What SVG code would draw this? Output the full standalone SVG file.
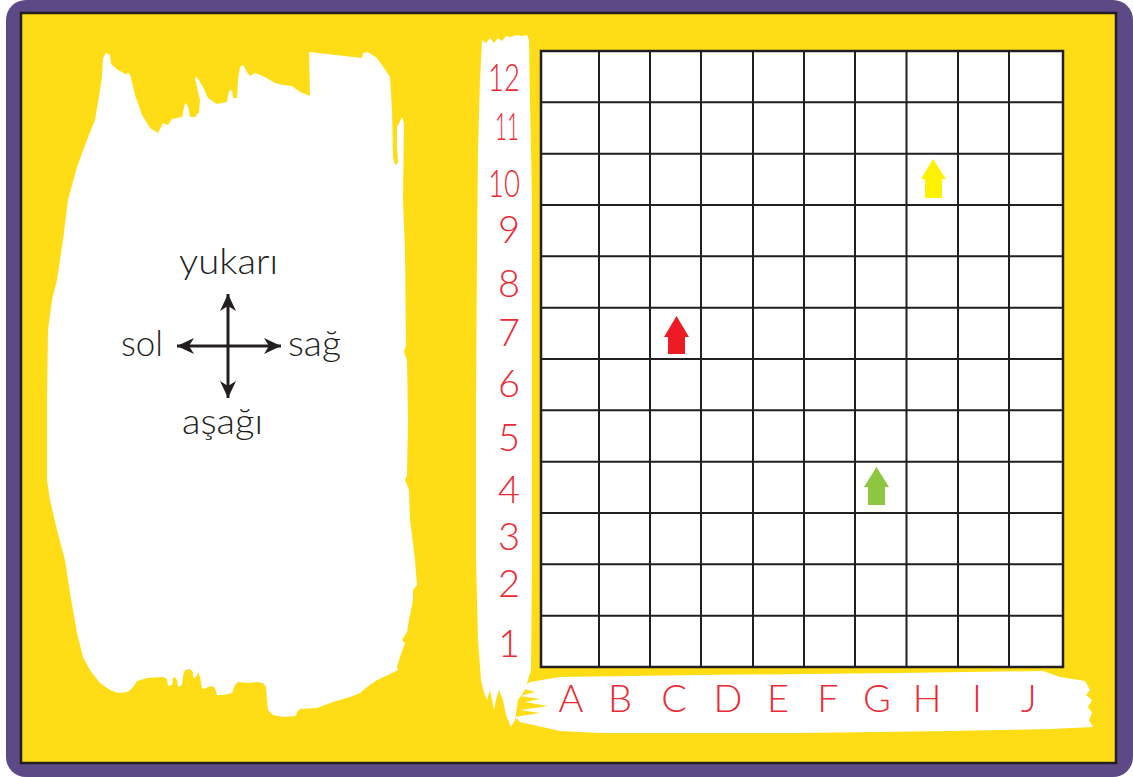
<svg xmlns="http://www.w3.org/2000/svg" width="1133" height="777" viewBox="0 0 1133 777">
<style>
.lbl{font-family:Lato,"Noto Sans","Liberation Sans",sans-serif;font-weight:300;fill:#ec2a33;font-size:38px}
.cmp{font-family:Lato,"Noto Sans","Liberation Sans",sans-serif;font-weight:300;fill:#231f20;font-size:35px}
.gl{stroke:#231f20;stroke-width:2;fill:none}
.wh{fill:#ffffff}
</style>
<defs>
<marker id="ah" viewBox="-18 -9 20 18" refX="0" refY="0" markerWidth="20" markerHeight="18" markerUnits="userSpaceOnUse" orient="auto">
<path d="M0,0 L-17,-8 L-12,0 L-17,8 Z" fill="#231f20"/>
</marker>
</defs>
<g id="frame">
<rect x="6" y="0" width="1127" height="777" rx="20" fill="#5e4987"/>
<rect x="21" y="13" width="1095" height="750" fill="#fedd17" stroke="#231f20" stroke-width="2.5"/>
</g>
<g id="brush-left">
<path class="wh" d="M106,53 L110,55 L111,64 L118,70 L125,74 L129,73 L131,78 L135,95 L142,115 L150,128 L158,133 L163,123 L168,125 L172,119 L182,117 L185,103 L188,106 L190,117 L195,117 L199,112 L200,100 L197,87 L195,78 L197,77 L203,87 L208,98 L217,104 L227,102 L229,91 L232,90 L233,98 L237,98 L238,80 L240,67 L243,65 L247,72 L250,76 L255,73 L263,76 L275,83 L283,85 L292,86 L300,92 L310,96 L309,52 L362,58 L363,53 L368,52 L377,58 L390,77 L392,110 L393,157 L395,165 L398,163 L397,147 L397,127 L402,117 L404,123 L403,200 L405,250 L406,345 L404,352 L407,360 L408,420 L407,475 L405,480 L409,490 L410,520 L415,560 L417,585 L413,590 L413,600 L409,620 L407,632 L402,640 L405,643 L400,657 L397,667 L398,670 L388,675 L377,680 L367,687 L360,693 L350,697 L333,702 L317,708 L300,709 L297,712 L296,716 L283,717 L273,715 L268,710 L267,700 L266,687 L263,683 L257,682 L248,683 L238,682 L235,685 L232,693 L223,695 L217,695 L215,688 L212,686 L208,687 L204,689 L202,688 L200,677 L198,672 L197,675 L195,678 L193,677 L193,672 L190,669 L185,670 L183,676 L182,685 L178,687 L177,680 L175,677 L173,678 L172,685 L168,686 L167,679 L163,677 L147,678 L137,681 L133,687 L128,692 L118,693 L110,690 L100,683 L90,670 L83,657 L77,633 L70,593 L65,560 L57,530 L50,500 L47,480 L47,400 L48,330 L52,300 L57,280 L63,240 L68,200 L77,167 L87,140 L95,120 L100,90 L102,77 L103,58 Z"/>
</g>
<g id="brush-numbers">
<path class="wh" d="M482,40 L486,43 L490,38 L494,43 L498,38 L502,41 L506,36 L511,37 L516,35 L522,36 L527,35 L529,40 L530,100 L532,200 L532,560 L531,670 L525,690 L518,700 L515,720 L511,727 L506,715 L503,700 L499,690 L496,700 L494,710 L490,690 L487,700 L484,693 L481,680 L478,640 L476,560 L476,400 L477,250 L478,150 L480,80 Z"/>
</g>
<g id="brush-letters">
<path class="wh" d="M530,682 L560,677 L700,675 L900,673 L1043,671 L1060,677 L1085,681 L1090,690 L1086,695 L1092,700 L1088,707 L1092,713 L1089,720 L1093,727 L1050,729 L1000,730 L950,731 L800,733 L600,733 L560,731 L520,722 L515,717 L540,713 L520,710 L548,706 L525,702 L540,699 L520,696 L535,692 L522,688 Z"/>
</g>
<g id="grid">
<rect x="541" y="51" width="522" height="616" fill="#ffffff" stroke="#231f20" stroke-width="2.5"/>
<path class="gl" d="M599,51V667 M650,51V667 M701,51V667 M753,51V667 M804,51V667 M855,51V667 M906.5,51V667 M958,51V667 M1009,51V667 M541,102.3H1063 M541,153.7H1063 M541,205H1063 M541,256.3H1063 M541,307.7H1063 M541,359H1063 M541,410.3H1063 M541,461.7H1063 M541,513H1063 M541,564.3H1063 M541,615.7H1063"/>
</g>
<g id="row-labels" class="lbl" text-anchor="end">
<text x="520" y="91" textLength="32" lengthAdjust="spacingAndGlyphs">12</text>
<text x="519" y="140" textLength="24" lengthAdjust="spacingAndGlyphs">11</text>
<text x="520" y="197" textLength="32" lengthAdjust="spacingAndGlyphs">10</text>
<text x="520" y="243">9</text>
<text x="520" y="297">8</text>
<text x="520" y="346">7</text>
<text x="520" y="397">6</text>
<text x="520" y="451">5</text>
<text x="520" y="503">4</text>
<text x="520" y="550">3</text>
<text x="520" y="597">2</text>
<text x="520" y="657">1</text>
</g>
<g id="col-labels" class="lbl" text-anchor="middle">
<text x="571" y="712">A</text>
<text x="620" y="712">B</text>
<text x="674" y="712">C</text>
<text x="728" y="712">D</text>
<text x="778" y="712">E</text>
<text x="828" y="712">F</text>
<text x="877" y="712">G</text>
<text x="927" y="712">H</text>
<text x="977" y="712">I</text>
<text x="1029" y="712">J</text>
</g>
<g id="arrow-yellow"><path d="M933,159 L946,179 L942,179 L942,198 L925,198 L925,179 L921,179 Z" fill="#fff200"/></g>
<g id="arrow-red"><path d="M676.5,316 L689,337 L685,337 L685,354 L668,354 L668,337 L664,337 Z" fill="#ed1c24"/></g>
<g id="arrow-green"><path d="M876.5,467 L889,487 L885,487 L885,505 L868,505 L868,487 L864,487 Z" fill="#8dc63f"/></g>
<g id="compass">
<g id="connectors">
<line x1="228" y1="346" x2="228" y2="294" stroke="#231f20" stroke-width="3" marker-end="url(#ah)"/>
<line x1="228" y1="346" x2="228" y2="398" stroke="#231f20" stroke-width="3" marker-end="url(#ah)"/>
<line x1="228" y1="346" x2="177" y2="346" stroke="#231f20" stroke-width="3" marker-end="url(#ah)"/>
<line x1="228" y1="346" x2="281" y2="346" stroke="#231f20" stroke-width="3" marker-end="url(#ah)"/>
</g>
<text class="cmp" x="179" y="274" textLength="99" lengthAdjust="spacingAndGlyphs">yukarı</text>
<text class="cmp" x="121" y="356" textLength="42" lengthAdjust="spacingAndGlyphs">sol</text>
<text class="cmp" x="288" y="356" textLength="53" lengthAdjust="spacingAndGlyphs">sağ</text>
<text class="cmp" x="182" y="434" textLength="81" lengthAdjust="spacingAndGlyphs">aşağı</text>
</g>
</svg>
